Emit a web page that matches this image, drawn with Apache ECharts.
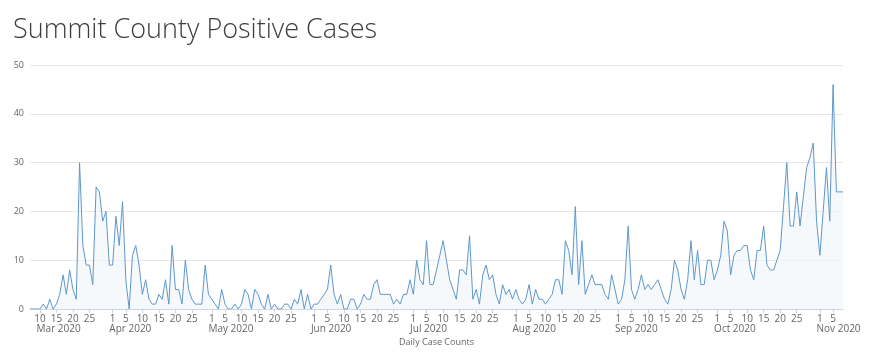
<!DOCTYPE html>
<html>
<head>
<meta charset="utf-8">
<script src="https://cdn.jsdelivr.net/npm/echarts@6/dist/echarts.min.js"></script>
<style>html,body{margin:0;padding:0;background:#fff}#c{width:880px;height:358px}</style>
</head>
<body>
<div id="c"></div>
<script>
var startDate = '2020-03-07';
var dailyCases = [
  0,0,0,0,1,0,2,0,1,3,
  7,3,8,4,2,30,13,9,9,5,
  25,24,18,20,9,9,19,13,22,6,
  0,11,13,9,3,6,2,1,1,3,
  2,6,1,13,4,4,1,10,4,2,
  1,1,1,9,3,2,1,0,4,1,
  0,0,1,0,1,4,3,0,4,3,
  1,0,3,0,1,0,0,1,1,0,
  2,1,4,0,3,0,1,1,2,3,
  4,9,3,1,3,0,0,2,2,0,
  1,3,2,2,5,6,3,3,3,3,
  1,2,1,3,3,6,3,10,6,5,
  14,5,5,8,11,14,10,6,4,2,
  8,8,7,15,2,4,1,7,9,6,
  7,3,1,5,3,4,2,4,2,1,
  2,5,1,4,2,2,1,2,3,6,
  6,3,14,12,7,21,5,14,3,5,
  7,5,5,5,3,2,7,4,1,2,
  6,17,4,2,4,7,4,5,4,5,
  6,4,2,1,4,10,8,4,2,6,
  14,6,12,5,5,10,10,6,8,11,
  18,16,7,11,12,12,13,13,8,6,
  12,12,17,9,8,8,10,12,21,30,
  17,17,24,17,23,29,31,34,18,11,
  20,29,18,46,24,24,24
];
var labelDays = [1, 5, 10, 15, 20, 25];
var monthNames = ['Jan','Feb','Mar','Apr','May','Jun','Jul','Aug','Sep','Oct','Nov','Dec'];
var yTicks = { min: 0, max: 50, interval: 10 };

// build date categories
var dates = [];
var d0 = new Date(startDate + 'T00:00:00Z');
for (var i = 0; i < dailyCases.length; i++) {
  var d = new Date(d0.getTime() + i * 86400000);
  dates.push(d.toISOString().slice(0, 10));
}
function dayOf(s) { return parseInt(s.slice(8, 10), 10); }
function monthOf(s) { return parseInt(s.slice(5, 7), 10) - 1; }
function yearOf(s) { return s.slice(0, 4); }

var firstLabelIdx = 0;
for (var k = 0; k < dates.length; k++) { if (labelDays.indexOf(dayOf(dates[k])) >= 0) { firstLabelIdx = k; break; } }

function monthAnchor(idx) {
  if (idx + 1 >= dates.length) return null;
  var nxt = dates[idx + 1];
  if (idx + 1 === firstLabelIdx || dayOf(nxt) === 1) return nxt;
  return null;
}

var chart = echarts.init(document.getElementById('c'), null, { renderer: 'canvas' });
var font = "'Open Sans', 'Noto Sans', sans-serif";
chart.setOption({
  animation: false,
  title: {
    text: 'Summit County Positive Cases',
    left: 8,
    top: 12,
    textStyle: { fontFamily: font, fontSize: 27, fontWeight: 300, color: '#3d3d3d' }
  },
  grid: { left: 30, right: 37, top: 65, bottom: 49, containLabel: false },
  xAxis: [
    {
      type: 'category',
      data: dates,
      boundaryGap: false,
      name: 'Daily Case Counts',
      nameLocation: 'middle',
      nameGap: 29,
      nameTextStyle: { fontFamily: font, fontSize: 9, color: '#666' },
      axisLine: { show: true, lineStyle: { color: '#ccd6eb', width: 1 } },
      axisTick: {
        show: true, length: 4, lineStyle: { color: '#ccd6eb' },
        interval: function (idx, val) { return labelDays.indexOf(dayOf(val)) >= 0; }
      },
      axisLabel: {
        margin: 5,
        fontFamily: font, fontSize: 10, color: '#666',
        interval: function (idx, val) { return labelDays.indexOf(dayOf(val)) >= 0; },
        formatter: function (val) { return String(dayOf(val)); }
      },
      splitLine: { show: false }
    },
    {
      type: 'category',
      data: dates,
      boundaryGap: false,
      position: 'bottom',
      axisLine: { show: false },
      axisTick: { show: false },
      splitLine: { show: false },
      axisLabel: {
        margin: 15,
        align: 'left',
        fontFamily: font, fontSize: 10, color: '#666',
        interval: function (idx) { return monthAnchor(idx) !== null; },
        formatter: function (val, idx) {
          var m = monthAnchor(idx);
          return m ? monthNames[monthOf(m)] + ' ' + yearOf(m) : '';
        }
      }
    }
  ],
  yAxis: {
    type: 'value',
    min: yTicks.min, max: yTicks.max, interval: yTicks.interval,
    axisLine: { show: false },
    axisTick: { show: false },
    axisLabel: { margin: 6, fontFamily: font, fontSize: 9, color: '#666' },
    splitLine: { lineStyle: { color: '#e6e6e6', width: 1 } }
  },
  series: [{
    type: 'line',
    data: dailyCases,
    xAxisIndex: 0,
    showSymbol: false,
    symbol: 'none',
    lineStyle: { color: '#5f97ca', width: 1 },
    itemStyle: { color: '#5f97ca' },
    areaStyle: { color: '#f2f6fb' }
  }]
});
</script>
</body>
</html>
